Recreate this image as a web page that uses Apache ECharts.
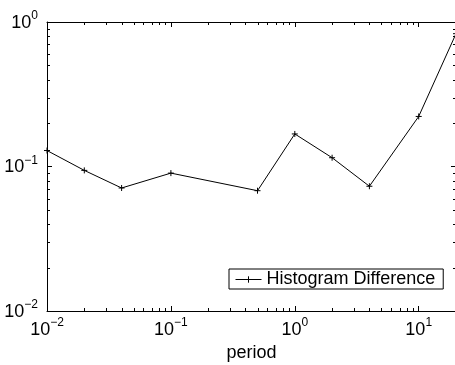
<!DOCTYPE html>
<html>
<head>
<meta charset="utf-8">
<style>
  html, body { margin: 0; padding: 0; background: #fff; }
  #chart { width: 455px; height: 365px; }
</style>
<script src="https://cdn.jsdelivr.net/npm/echarts@6/dist/echarts.min.js"></script>
</head>
<body>
<div id="chart"></div>
<script>
// Sampling periods and the measured histogram difference at each one
var periods = [0.01, 0.02, 0.04, 0.1, 0.5, 1, 2, 4, 10, 20];
var histDiff = [0.129, 0.094, 0.071, 0.090, 0.068, 0.168, 0.115, 0.073, 0.222, 0.83];

// Axis ranges
var xRange = [0.01, 20];
var yRange = [0.01, 1];

// Minor (2..9 x decade) tick positions for each log axis
var minorSteps = [2, 3, 4, 5, 6, 7, 8, 9];
var xDecades = [0.01, 0.1, 1, 10];
var yDecades = [0.01, 0.1];

function minorTicks(decades, range) {
  var out = [];
  decades.forEach(function (d) {
    minorSteps.forEach(function (m) {
      var v = +(d * m).toPrecision(6);
      if (v > range[0] && v < range[1]) out.push(v);
    });
  });
  return out;
}
var xMinor = minorTicks(xDecades, xRange);
var yMinor = minorTicks(yDecades, yRange);

var FONT = 'Liberation Sans, Arial, Helvetica, sans-serif';

// Decade labels written as 10 with a raised exponent
function powLabel(value) {
  var e = Math.round(Math.log(value) / Math.LN10);
  if (Math.abs(Math.log(value) / Math.LN10 - e) > 1e-6) return '';
  var s = e < 0 ? '\u2212' + (-e) : String(e);
  return '{b|10}{s|' + s + '}';
}
var richLabel = {
  b: { fontFamily: FONT, fontSize: 18, color: '#000', verticalAlign: 'bottom', lineHeight: 20 },
  s: { fontFamily: FONT, fontSize: 12, color: '#000', verticalAlign: 'bottom', lineHeight: 12, padding: [0, 0, 10, 0] }
};

var axisLineStyle = { show: true, lineStyle: { color: '#000', width: 1 } };
var majorTick = { show: true, inside: true, length: 5, lineStyle: { color: '#000', width: 1 } };

// Short inward minor ticks on both sides of the box
function minorRenderer(dir) {
  return function (params, api) {
    var cs = params.coordSys;
    var p = api.coord([api.value(0), api.value(1)]);
    var len = 3;
    var st = { stroke: '#000', lineWidth: 1 };
    if (dir === 'x') {
      var x = Math.round(p[0]) + 0.5;
      var b = cs.y + cs.height, t = cs.y;
      return { type: 'group', children: [
        { type: 'line', shape: { x1: x, y1: b, x2: x, y2: b - len }, style: st },
        { type: 'line', shape: { x1: x, y1: t, x2: x, y2: t + len }, style: st }
      ] };
    } else {
      var y = Math.round(p[1]) + 0.5;
      var l = cs.x, r = cs.x + cs.width;
      return { type: 'group', children: [
        { type: 'line', shape: { x1: l, y1: y, x2: l + len, y2: y }, style: st },
        { type: 'line', shape: { x1: r, y1: y, x2: r - len, y2: y }, style: st }
      ] };
    }
  };
}

var chart = echarts.init(document.getElementById('chart'), null, { renderer: 'canvas' });
chart.setOption({
  animation: false,
  backgroundColor: '#fff',
  grid: { left: 47, top: 22, width: 409, height: 289, outerBoundsMode: 'none', containLabel: false },
  legend: {
    data: ['Histogram Difference'],
    left: 229, top: 269,
    padding: [1, 8, 0, 6],
    itemWidth: 26, itemHeight: 8, itemGap: 0, itemTextGap: 4,
    borderColor: '#000', borderWidth: 1, borderRadius: 0,
    backgroundColor: '#fff',
    lineStyle: { color: '#000', width: 1 },
    itemStyle: { color: '#000', borderColor: '#000', borderWidth: 1 },
    textStyle: { fontFamily: FONT, fontSize: 18, color: '#000', lineHeight: 19 },
    selectedMode: false
  },
  xAxis: [
    {
      type: 'log', logBase: 10, min: xRange[0], max: xRange[1],
      name: 'period', nameLocation: 'middle', nameGap: 23,
      nameTextStyle: { fontFamily: FONT, fontSize: 18, color: '#000' },
      axisLine: axisLineStyle, axisTick: majorTick,
      axisLabel: { formatter: powLabel, rich: richLabel, margin: 8, showMaxLabel: false },
      splitLine: { show: false }
    },
    {
      type: 'log', logBase: 10, min: xRange[0], max: xRange[1], position: 'top',
      axisLine: axisLineStyle, axisTick: majorTick, axisLabel: { show: false }, splitLine: { show: false }
    }
  ],
  yAxis: [
    {
      type: 'log', logBase: 10, min: yRange[0], max: yRange[1],
      axisLine: axisLineStyle, axisTick: majorTick,
      axisLabel: { formatter: powLabel, rich: richLabel, margin: 9 },
      splitLine: { show: false }
    },
    {
      type: 'log', logBase: 10, min: yRange[0], max: yRange[1], position: 'right',
      axisLine: axisLineStyle, axisTick: majorTick, axisLabel: { show: false }, splitLine: { show: false }
    }
  ],
  series: [
    {
      name: 'Histogram Difference',
      type: 'line',
      data: periods.map(function (p, i) { return [p, histDiff[i]]; }),
      symbol: 'path://M0,5L10,5M5,0L5,10',
      symbolSize: 6,
      lineStyle: { color: '#000', width: 1 },
      itemStyle: { color: '#000', borderColor: '#000', borderWidth: 1 },
      clip: false,
      z: 5
    },
    {
      name: 'xMinor', type: 'custom', silent: true, clip: false,
      renderItem: minorRenderer('x'),
      data: xMinor.map(function (v) { return [v, yRange[0]]; })
    },
    {
      name: 'yMinor', type: 'custom', silent: true, clip: false,
      renderItem: minorRenderer('y'),
      data: yMinor.map(function (v) { return [xRange[0], v]; })
    }
  ]
});
</script>
</body>
</html>
